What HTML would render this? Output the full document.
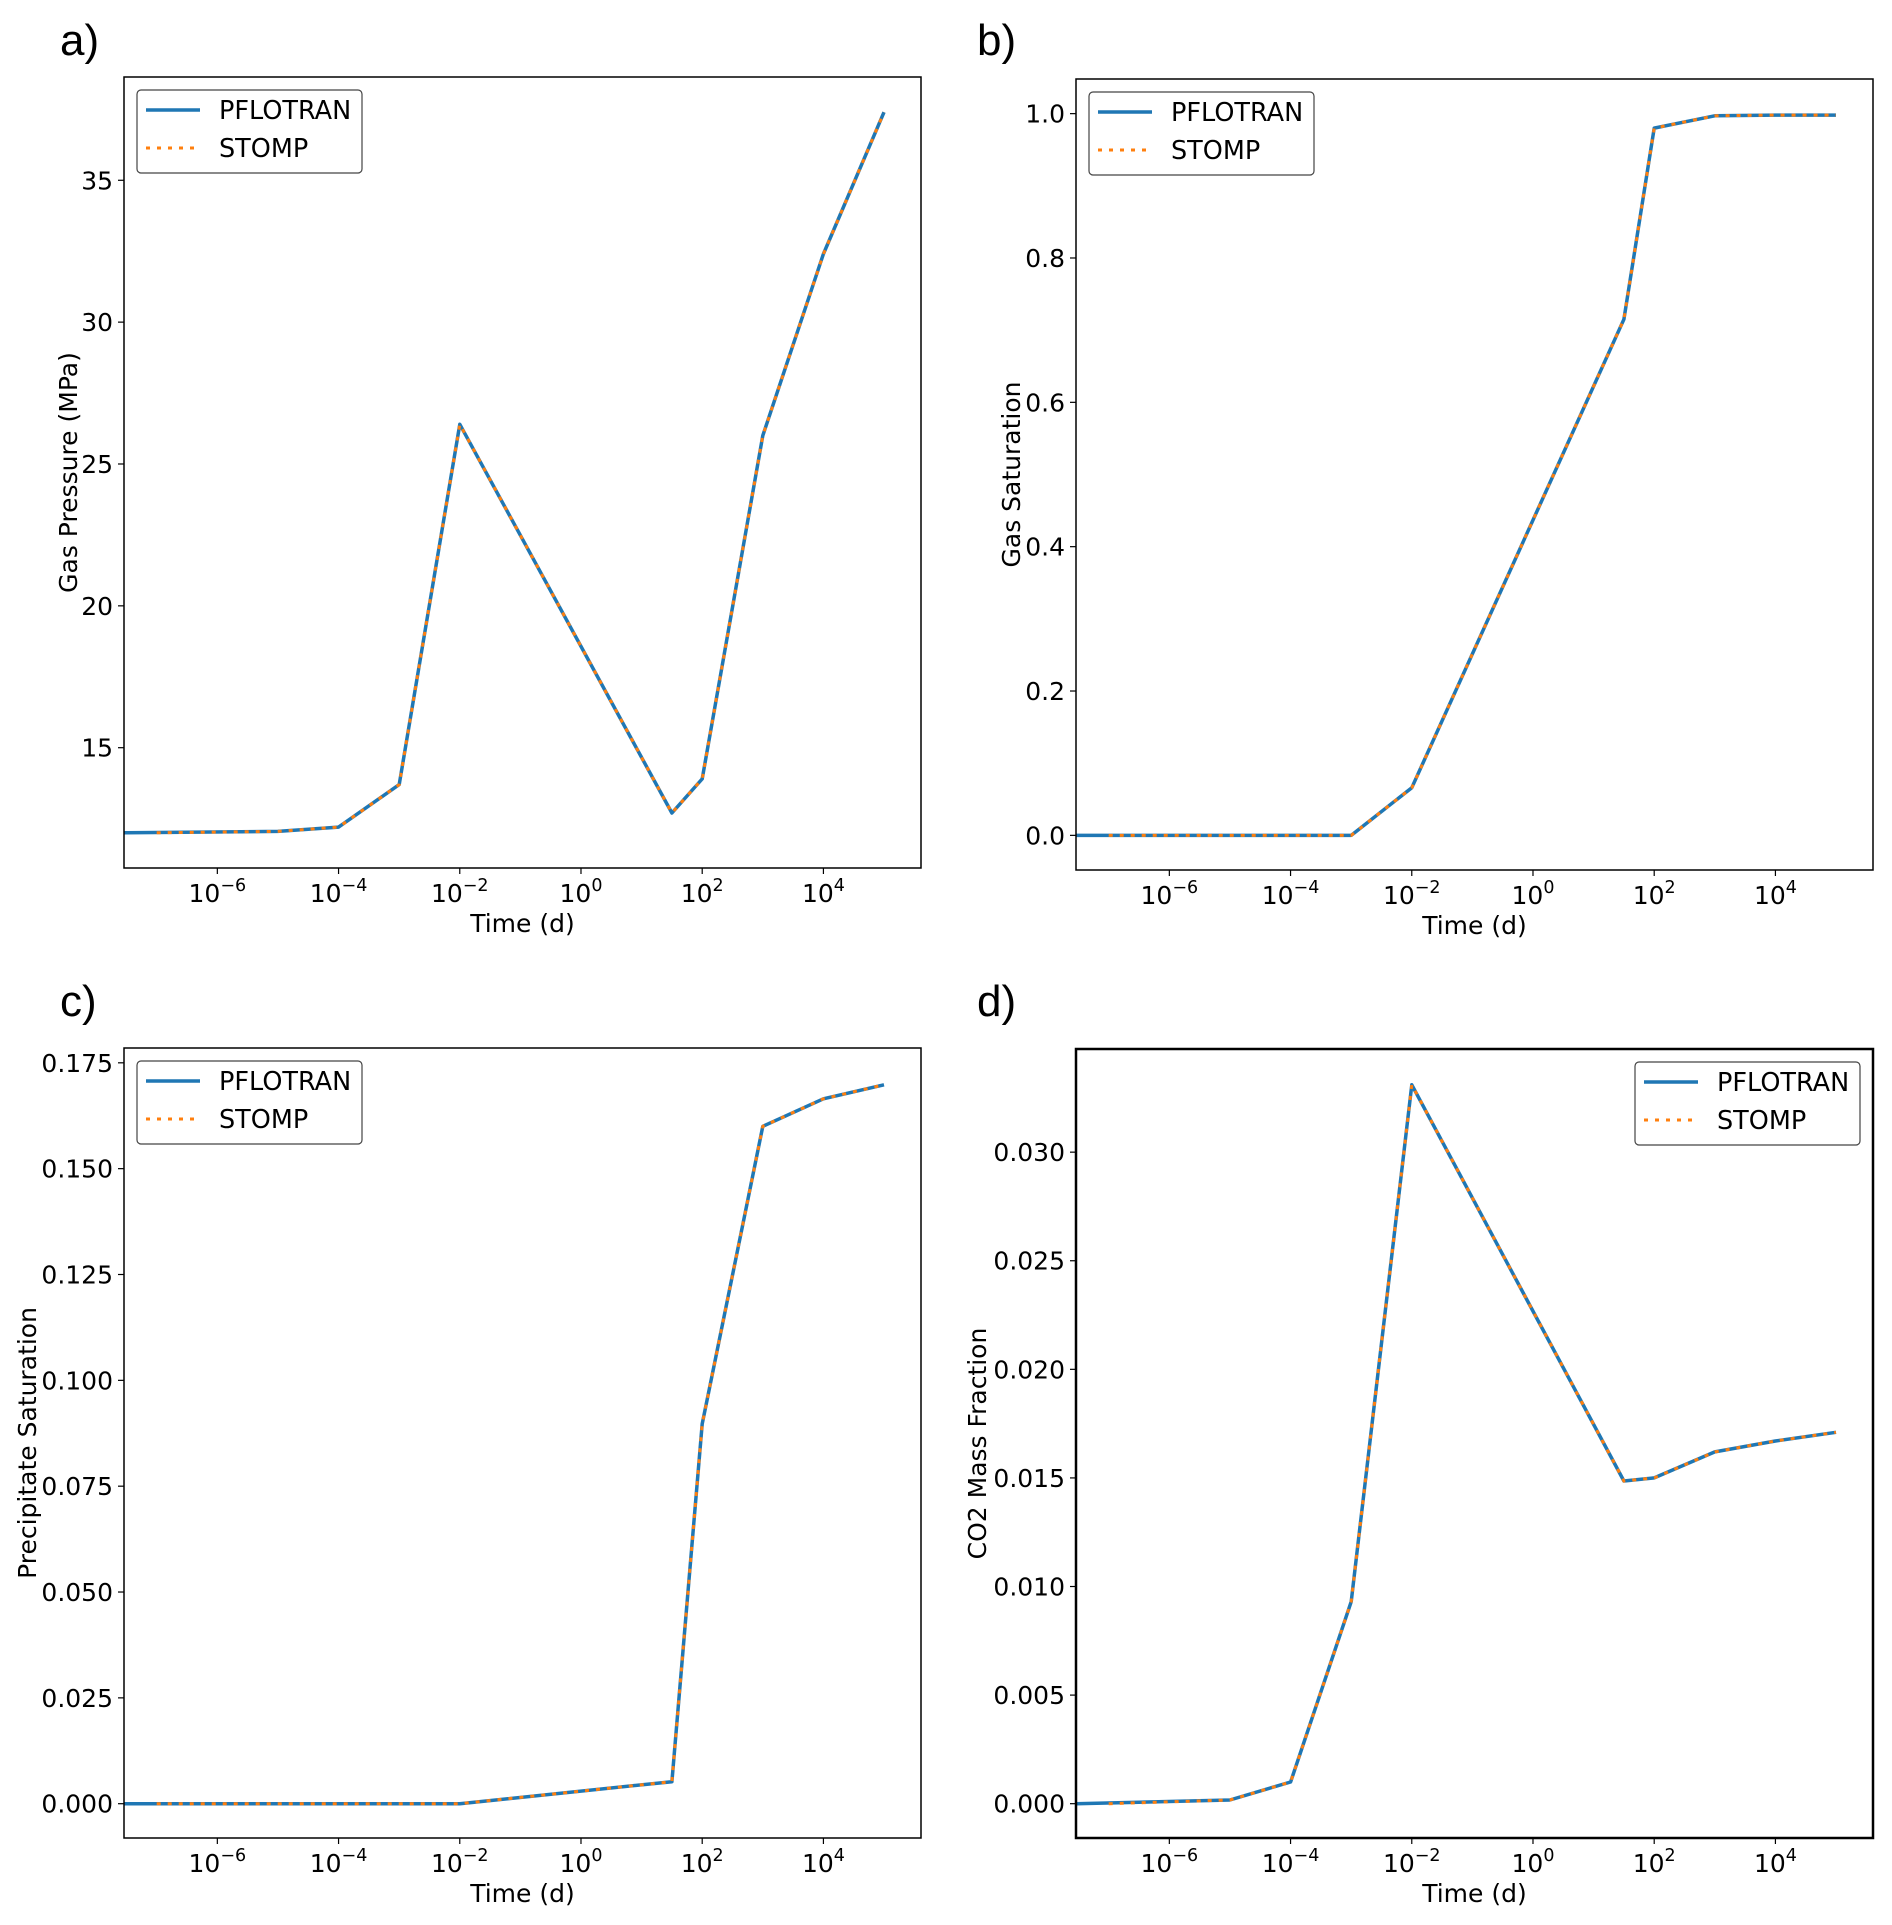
<!DOCTYPE html>
<html><head><meta charset="utf-8">
<style>
html,body{margin:0;padding:0;background:#fff;}
svg{display:block;font-family:"DejaVu Sans","Liberation Sans",sans-serif;}
</style></head>
<body>
<svg id="fig" width="1892" height="1925" viewBox="0 0 1892 1925" xmlns="http://www.w3.org/2000/svg"></svg>
<script>
// shared x data (log10 of time in days)
const timeLog = [-7.54, -5, -4, -3, -2, 1.5, 2, 3, 4, 5];
const stompTimeLog = [-7, -5, -4, -3, -2, 1.5, 2, 3, 4, 5];
const xTicks = [-6, -4, -2, 0, 2, 4];
// panel series
const pressureVals = [12.0, 12.05, 12.2, 13.7, 26.4, 12.7, 13.9, 26.0, 32.4, 37.4];
const gasSatVals = [0, 0, 0, 0, 0.066, 0.715, 0.98, 0.997, 0.998, 0.998];
const precipVals = [0, 0, 0, 0, 0, 0.0052, 0.0897, 0.160, 0.1665, 0.1698];
const co2Vals = [0, 0.00017, 0.001, 0.0093, 0.0331, 0.01486, 0.0150, 0.0162, 0.0167, 0.0171];
const pressureTicks = [15, 20, 25, 30, 35];
const gasSatTicks = [0, 0.2, 0.4, 0.6, 0.8, 1.0];
const precipTicks = [0, 0.025, 0.05, 0.075, 0.1, 0.125, 0.15, 0.175];
const co2Ticks = [0, 0.005, 0.01, 0.015, 0.02, 0.025, 0.03];

const NS = "http://www.w3.org/2000/svg";
const svg = document.getElementById('fig');
function mk(tag, attrs, parent){
  const e = document.createElementNS(NS, tag);
  for (const k in attrs) e.setAttribute(k, attrs[k]);
  (parent||svg).appendChild(e);
  return e;
}
const panels = [
  {id:'a', box:[124,77,921,868], ylim:[10.76,38.64], vals:pressureVals, ticks:pressureTicks, dec:0, ylabel:'Gas Pressure (MPa)', ylx:70, legendRight:false, letter:[60,55], bw:1.5},
  {id:'b', box:[1076,79,1873,870], ylim:[-0.048,1.048], vals:gasSatVals, ticks:gasSatTicks, dec:1, ylabel:'Gas Saturation', ylx:1013, legendRight:false, letter:[977,55], bw:1.5},
  {id:'c', box:[124,1048,921,1838], ylim:[-0.0081,0.1785], vals:precipVals, ticks:precipTicks, dec:3, ylabel:'Precipitate Saturation', ylx:29, legendRight:false, letter:[60,1016], bw:1.5},
  {id:'d', box:[1076,1049,1873,1838], ylim:[-0.00158,0.03475], vals:co2Vals, ticks:co2Ticks, dec:3, ylabel:'CO2 Mass Fraction', ylx:979, legendRight:true, letter:[977,1016], bw:2.5}
];
const XL = [-7.54, 5.61];
panels.forEach(p=>{
  const [x0,y0,x1,y1] = p.box;
  const g = mk('g', {});
  
  
  const xs = v => x0 + (v - XL[0])/(XL[1]-XL[0])*(x1-x0);
  const ys = v => y1 - (v - p.ylim[0])/(p.ylim[1]-p.ylim[0])*(y1-y0);
  const letter = mk('text', {x:p.letter[0], y:p.letter[1], 'font-size':44, fill:'#000', 'font-family':'Liberation Sans, sans-serif'}, g);
  letter.textContent = p.id + ')';
  
  
  // x ticks
  xTicks.forEach(t=>{
    const x = xs(t);
    mk('line', {x1:x, x2:x, y1:y1, y2:y1+6, stroke:'#000', 'stroke-width':1.2}, g);
    const tx = mk('text', {x:x, y:y1+34, 'font-size':25, 'text-anchor':'middle', fill:'#000'}, g);
    
    
    const a = document.createElementNS(NS,'tspan'); a.textContent='10'; tx.appendChild(a);
    const b = document.createElementNS(NS,'tspan'); b.setAttribute('dy','-11'); b.setAttribute('font-size','17.5');
    b.textContent = (t<0?'\u2212'+(-t):String(t)); tx.appendChild(b);
  });
  // y ticks
  p.ticks.forEach(t=>{
    const y = ys(t);
    mk('line', {x1:x0-6, x2:x0, y1:y, y2:y, stroke:'#000', 'stroke-width':1.2}, g);
    const ty = mk('text', {x:x0-11, y:y+9, 'font-size':25, 'text-anchor':'end', fill:'#000'}, g);
    ty.textContent = t.toFixed(p.dec);
    
    
  });
  const xl = mk('text', {x:(x0+x1)/2, y:y1+64, 'font-size':25, 'text-anchor':'middle', fill:'#000'}, g);
  xl.textContent = 'Time (d)';
  
  
  const yc = (y0+y1)/2;
  const yl = mk('text', {x:p.ylx, y:yc, 'font-size':25, 'text-anchor':'middle', fill:'#000', transform:`rotate(-90 ${p.ylx} ${yc})`, 'dominant-baseline':'middle'}, g);
  yl.textContent = p.ylabel;
  
  
  // series
  const pts = timeLog.map((t,i)=>xs(t).toFixed(1)+','+ys(p.vals[i]).toFixed(1)).join(' ');
  const pts2 = stompTimeLog.map((t,i)=>xs(t).toFixed(1)+','+ys(p.vals[i]).toFixed(1)).join(' ');
  const l1 = mk('polyline', {points:pts, fill:'none', stroke:'#1f77b4', 'stroke-width':3.5, 'stroke-linejoin':'round'}, g);
  
  
  const l2 = mk('polyline', {points:pts2, fill:'none', stroke:'#ff7f0e', 'stroke-width':3, 'stroke-dasharray':'4 7'}, g);
  
  
  // frame
  mk('rect', {x:x0, y:y0, width:x1-x0, height:y1-y0, fill:'none', stroke:'#000', 'stroke-width':p.bw}, g);
  // legend
  const lw = 225, lh = 83;
  const lx = p.legendRight ? x1-13-lw : x0+13;
  const ly = y0+13;
  const lg = mk('g', {}, g);
  
  
  mk('rect', {x:lx, y:ly, width:lw, height:lh, rx:4, fill:'#fff', stroke:'#444', 'stroke-width':1.2}, lg);
  mk('line', {x1:lx+9, x2:lx+63, y1:ly+20, y2:ly+20, stroke:'#1f77b4', 'stroke-width':3.5}, lg);
  mk('line', {x1:lx+9, x2:lx+63, y1:ly+58, y2:ly+58, stroke:'#ff7f0e', 'stroke-width':3, 'stroke-dasharray':'4 7'}, lg);
  const t1 = mk('text', {x:lx+82, y:ly+29, 'font-size':25.5, fill:'#000'}, lg); t1.textContent='PFLOTRAN';
  
  
  const t2 = mk('text', {x:lx+82, y:ly+67, 'font-size':25.5, fill:'#000'}, lg); t2.textContent='STOMP';
  
  
});
</script>
</body></html>
